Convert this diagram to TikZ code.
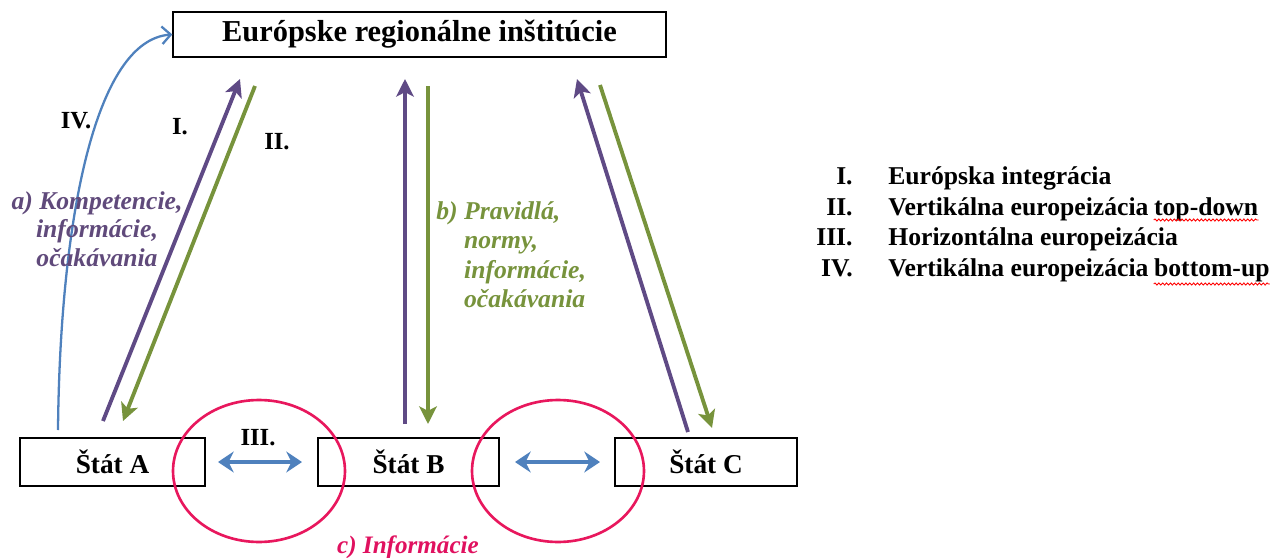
\documentclass[tikz,border=0pt]{standalone}
\usepackage{fontspec}
\setmainfont{Liberation Serif}
\usetikzlibrary{arrows.meta,shapes.geometric,decorations.pathmorphing,calc}
\definecolor{cpurple}{HTML}{5F4A85}
\definecolor{cgreen}{HTML}{77933C}
\definecolor{cblue}{HTML}{4F81BD}
\definecolor{cpink}{HTML}{E8175D}
\definecolor{tpurple}{HTML}{604A7B}
\definecolor{tpink}{HTML}{E0115F}
\begin{document}
\begin{tikzpicture}[x=0.02cm,y=-0.02cm,
  box/.style={draw=black,line width=0.8pt,rectangle,inner sep=0pt,font=\fontsize{15.5}{18}\selectfont\bfseries},
  oval/.style={draw=cpink,line width=1.5pt,ellipse,inner sep=0pt,minimum width=3.44cm,minimum height=2.84cm},
  parr/.style={draw=cpurple,line width=2.2pt,-{Stealth[length=10pt,width=10pt,inset=2.5pt]}},
  garr/.style={draw=cgreen,line width=2.2pt,-{Stealth[length=10pt,width=10pt,inset=2.5pt]}},
  barr/.style={draw=cblue,line width=2.6pt,{Stealth[length=9pt,width=12pt,inset=3pt]}-{Stealth[length=9pt,width=12pt,inset=3pt]}},
  lbl/.style={font=\fontsize{14}{17}\selectfont\bfseries},
  leg/.style={font=\fontsize{14.6}{17}\selectfont\bfseries,inner sep=0pt},
  squig/.style={draw=red,line width=0.5pt,decorate,decoration={snake,amplitude=0.6pt,segment length=2.2pt}}
]
\useasboundingbox (0,0) rectangle (1276,558);
% boxes
\node[box,minimum width=9.86cm,minimum height=0.9cm,font=\fontsize{17.3}{20}\selectfont\bfseries] (eu) at (419.5,34.5) {Európske regionálne inštitúcie};
\node[box,minimum width=3.7cm,minimum height=0.96cm] (sa) at (112.5,462) {Štát A};
\node[box,minimum width=3.62cm,minimum height=0.96cm] (sb) at (408.5,462) {Štát B};
\node[box,minimum width=3.64cm,minimum height=0.96cm] (sc) at (706,462) {Štát C};
% ellipses
\node[oval] (e1) at (259,471) {};
\node[oval] (e2) at (558,471) {};
% endpoints
\coordinate (p1s) at (103,421); \coordinate (p1e) at (240,79);
\coordinate (g1s) at (255,86);  \coordinate (g1e) at (123,421);
\coordinate (p2s) at (405,424); \coordinate (p2e) at (405,79);
\coordinate (g2s) at (428,86);  \coordinate (g2e) at (428,424);
\coordinate (p3s) at (688,432); \coordinate (p3e) at (577,79);
\coordinate (g3s) at (600,85);  \coordinate (g3e) at (712,428);
\coordinate (b4s) at (58,430);
% arrows
\draw[parr] (p1s) -- (p1e);
\draw[garr] (g1s) -- (g1e);
\draw[parr] (p2s) -- (p2e);
\draw[garr] (g2s) -- (g2e);
\draw[parr] (p3s) -- (p3e);
\draw[garr] (g3s) -- (g3e);
\draw[draw=cblue,line width=1.3pt,-{Straight Barb[length=5pt,width=10pt]}] (b4s) .. controls (60,220) and (95,40) .. (eu.west);
\draw[barr] (218,462) -- (302,462);
\draw[barr] (515,462) -- (600,462);
% roman labels
\node[lbl] (liv) at (76,121) {IV.};
\node[lbl] (li) at (180,127) {I.};
\node[lbl] (lii) at (277,142) {II.};
\node[lbl] (liii) at (258,438) {III.};
% texts
\node[lbl,font=\fontsize{14.6}{16.3}\selectfont\bfseries\itshape,text=tpurple,align=center] (ta) at (97,229) {a) Kompetencie,\\informácie,\\očakávania};
\node[lbl,font=\fontsize{14.6}{16.6}\selectfont\bfseries\itshape,text=cgreen,anchor=north west,inner sep=0pt] (tb) at (436,199) {\begin{tabular}{@{}l@{\ }l@{}}b) & Pravidlá,\\ & normy,\\ & informácie,\\ & očakávania\end{tabular}};
\node[lbl,font=\fontsize{14.3}{17}\selectfont\bfseries\itshape,text=tpink] (tc) at (408,547) {c) Informácie};
% legend
\node[leg,anchor=base east] (n1) at (853,184) {I.};
\node[leg,anchor=base east] (n2) at (853,215) {II.};
\node[leg,anchor=base east] (n3) at (853,245) {III.};
\node[leg,anchor=base east] (n4) at (853,276) {IV.};
\node[leg,anchor=base west] (t1) at (888,184) {Európska integrácia};
\node[leg,anchor=base west] (t2) at (888,215) {Vertikálna europeizácia};
\node[leg,anchor=base west] (t2b) at ($(t2.base east)+(5,0)$) {top-down};
\node[leg,anchor=base west] (t3) at (888,245) {Horizontálna europeizácia};
\node[leg,anchor=base west] (t4) at (888,276) {Vertikálna europeizácia};
\node[leg,anchor=base west] (t4b) at ($(t4.base east)+(5,0)$) {bottom-up};
\draw[squig] ($(t2b.base west)+(0,5)$) -- ($(t2b.base east)+(0,5)$);
\draw[squig] ($(t4b.base west)+(0,8)$) -- ($(t4b.base east)+(0,8)$);
\end{tikzpicture}
\end{document}
